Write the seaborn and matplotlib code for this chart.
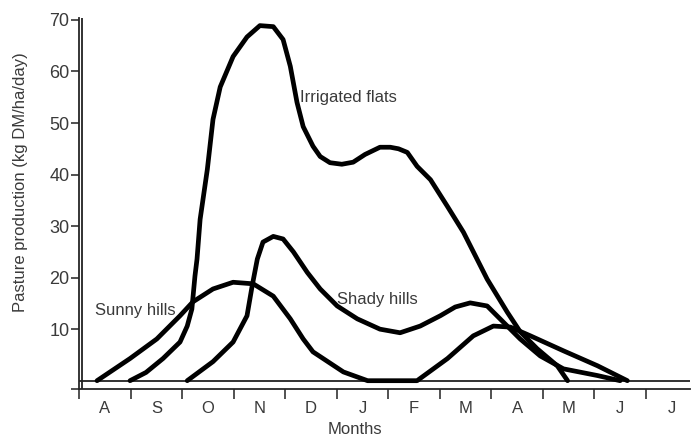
import pandas as pd
import seaborn as sns
import matplotlib.pyplot as plt

# months on the x axis (label sits in the middle of each month)
months = ["A", "S", "O", "N", "D", "J", "F", "M", "A", "M", "J", "J"]
y_ticks = [10, 20, 30, 40, 50, 60, 70]

# values, x in months from the start of August
irr_x = [0.99, 1.3, 1.63, 1.96, 2.10, 2.19, 2.25, 2.29, 2.35, 2.49, 2.60, 2.74, 2.99, 3.26,
         3.51, 3.77, 3.96, 4.10, 4.23, 4.35, 4.54, 4.68, 4.87, 5.1, 5.32, 5.55, 5.84, 6.04,
         6.2, 6.37, 6.56, 6.82, 7.15, 7.46, 7.92, 8.31, 8.56, 8.89, 9.28, 9.48]
irr_y = [0, 1.6, 4.3, 7.5, 10.6, 13.9, 20.3, 23.6, 31.3, 41, 50.7, 57, 62.9, 66.7,
         68.9, 68.7, 66.2, 61, 54, 49.3, 45.5, 43.5, 42.3, 42, 42.4, 43.9, 45.3, 45.3,
         45, 44.3, 41.6, 39, 33.8, 28.8, 19.7, 13.3, 9.5, 6.2, 2.9, 0]

sunny_x = [0.35, 0.99, 1.51, 1.96, 2.21, 2.60, 2.99, 3.38, 3.77, 4.10, 4.35, 4.54, 5.13, 5.6,
           6.56, 7.15, 7.65, 8.04, 8.37, 8.76, 9.40, 10.06, 10.64]
sunny_y = [0, 4.3, 8.1, 12.6, 15.3, 17.8, 19.1, 18.8, 16.4, 12, 8.1, 5.6, 1.7, 0,
           0, 4.3, 8.7, 10.6, 10.4, 8.7, 5.8, 2.9, 0]

shady_x = [2.10, 2.60, 2.99, 3.26, 3.36, 3.46, 3.57, 3.77, 3.96, 4.16, 4.43, 4.68, 5.01, 5.40,
           5.84, 6.23, 6.62, 7.01, 7.30, 7.59, 7.92, 8.23, 8.56, 8.95, 9.40, 10.06, 10.5]
shady_y = [0, 3.7, 7.5, 12.6, 18.4, 23.6, 26.9, 28, 27.5, 25, 21, 17.8, 14.5, 12,
           10, 9.3, 10.6, 12.6, 14.3, 15.1, 14.5, 11.4, 8.1, 4.8, 2.3, 1.0, 0]

frames = []
for name, xs, ys in [("Irrigated flats", irr_x, irr_y),
                     ("Sunny hills", sunny_x, sunny_y),
                     ("Shady hills", shady_x, shady_y)]:
    frames.append(pd.DataFrame({"month": xs, "prod": ys, "pasture": name}))
df = pd.concat(frames, ignore_index=True)

sns.set_style("ticks")
plt.rcParams["font.family"] = ["Liberation Sans", "DejaVu Sans"]
txt = "#3a3a3a"

fig = plt.figure(figsize=(6.93, 4.38), dpi=100)
ax = fig.add_axes([0.114, 0.112, 0.882, 0.846])

sns.lineplot(data=df, x="month", y="prod", hue="pasture", sort=False,
             palette=["black", "black", "black"], linewidth=3.4, legend=False,
             solid_capstyle="round", solid_joinstyle="round", ax=ax)

ax.set_xlim(0, 11.86)
ax.set_ylim(-1.6, 70.3)

# double axis lines like the scan
ax.axhline(0, color="#222222", lw=1.3, zorder=1)
ax.axvline(0.06, color="#222222", lw=1.3, zorder=1)

ax.set_xticks(range(12))
ax.set_xticklabels([])
ax.set_xticks([k + 0.5 for k in range(12)], minor=True)
ax.set_xticklabels(months, minor=True, color=txt, fontsize=12)
ax.tick_params(axis="x", which="major", length=7, width=1.1, direction="out", color="#222222")
ax.tick_params(axis="x", which="minor", length=0, pad=9)

ax.set_yticks([-1.6] + y_ticks)
ax.set_yticklabels([""] + [str(v) for v in y_ticks], color=txt, fontsize=13)
ax.tick_params(axis="y", length=6, width=1.1, color="#222222", pad=1)

for side in ["top", "right"]:
    ax.spines[side].set_visible(False)
ax.spines["left"].set_linewidth(1.3)
ax.spines["bottom"].set_linewidth(1.3)

ax.set_xlabel("Months", color=txt, fontsize=12)
ax.xaxis.set_label_coords(0.452, -0.088)
ax.set_ylabel("Pasture production (kg DM/ha/day)", color=txt, fontsize=12)
ax.yaxis.set_label_coords(-0.083, 0.557)

ax.text(4.29, 54.9, "Irrigated flats", color=txt, fontsize=12, va="center")
ax.text(0.31, 13.7, "Sunny hills", color=txt, fontsize=12, va="center")
ax.text(5.01, 15.7, "Shady hills", color=txt, fontsize=12, va="center")

plt.savefig("out.png", dpi=100)
